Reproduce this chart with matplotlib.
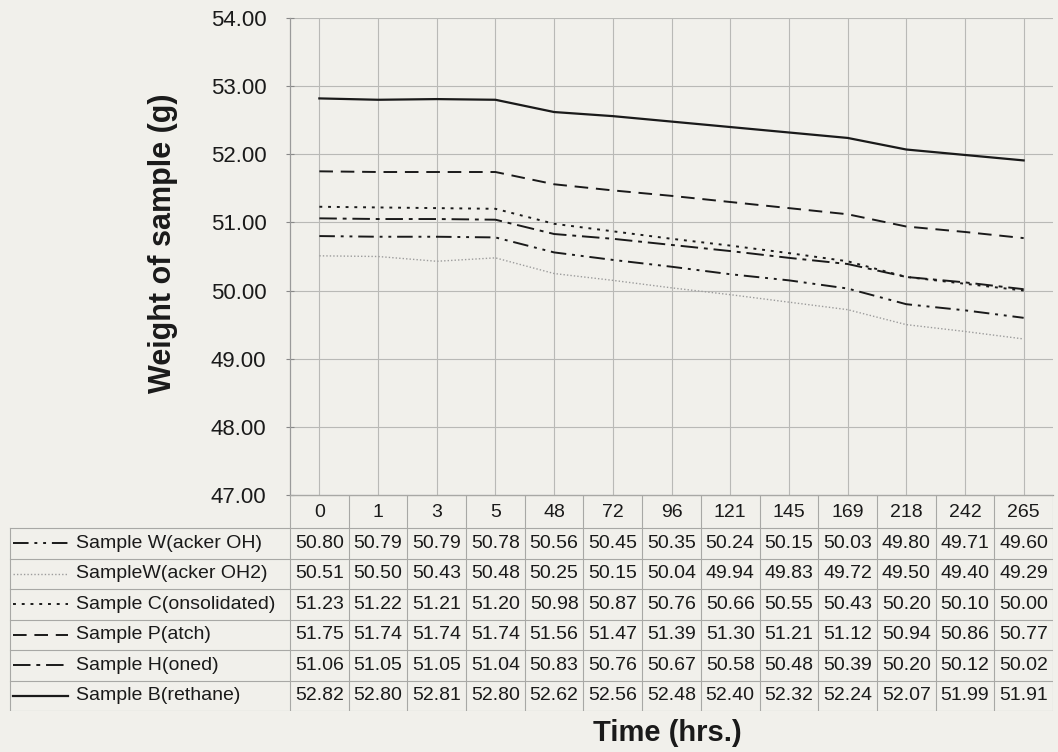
import matplotlib
matplotlib.use('Agg')
import matplotlib.pyplot as plt

plt.rcParams['font.family'] = ['Liberation Sans', 'DejaVu Sans']

# ---------------- data ----------------
times = ['0', '1', '3', '5', '48', '72', '96', '121', '145', '169', '218', '242', '265']
w_oh = [50.80, 50.79, 50.79, 50.78, 50.56, 50.45, 50.35, 50.24, 50.15, 50.03, 49.80, 49.71, 49.60]
w_oh2 = [50.51, 50.50, 50.43, 50.48, 50.25, 50.15, 50.04, 49.94, 49.83, 49.72, 49.50, 49.40, 49.29]
c_cons = [51.23, 51.22, 51.21, 51.20, 50.98, 50.87, 50.76, 50.66, 50.55, 50.43, 50.20, 50.10, 50.00]
p_patch = [51.75, 51.74, 51.74, 51.74, 51.56, 51.47, 51.39, 51.30, 51.21, 51.12, 50.94, 50.86, 50.77]
h_honed = [51.06, 51.05, 51.05, 51.04, 50.83, 50.76, 50.67, 50.58, 50.48, 50.39, 50.20, 50.12, 50.02]
b_reth = [52.82, 52.80, 52.81, 52.80, 52.62, 52.56, 52.48, 52.40, 52.32, 52.24, 52.07, 51.99, 51.91]
series_names = ['Sample W(acker OH)', 'SampleW(acker OH2)', 'Sample C(onsolidated)',
                'Sample P(atch)', 'Sample H(oned)', 'Sample B(rethane)']
y_ticks = [47, 48, 49, 50, 51, 52, 53, 54]

series = [w_oh, w_oh2, c_cons, p_patch, h_honed, b_reth]
styles = [
    dict(color='#1a1a1a', lw=1.4, ls=(0, (8, 3, 1.5, 3, 1.5, 3))),
    dict(color='#9c9c9c', lw=1.0, ls=(0, (1, 1.5))),
    dict(color='#1a1a1a', lw=1.4, ls=(0, (1.5, 3))),
    dict(color='#1a1a1a', lw=1.4, ls=(0, (7, 4))),
    dict(color='#1a1a1a', lw=1.4, ls=(0, (9, 3, 2, 3))),
    dict(color='#1a1a1a', lw=1.6, ls='-'),
]

# ---------------- layout ----------------
W, H = 1058, 752
BG = '#f1f0eb'
GRID = '#b9b9b6'
fig = plt.figure(figsize=(W / 100, H / 100), dpi=100, facecolor=BG)

x_left, x_right = 290, 1053
y_top, y_bot = 18, 495
ax = fig.add_axes([x_left / W, 1 - y_bot / H, (x_right - x_left) / W, (y_bot - y_top) / H])
ax.set_facecolor(BG)
n = len(times)
xs = list(range(n))
ax.set_xlim(-0.5, n - 0.5)
ax.set_ylim(y_ticks[0], y_ticks[-1])
ax.set_yticks(y_ticks)
ax.set_yticklabels(['%.2f' % v for v in y_ticks], fontsize=16, color='#1a1a1a')
ax.set_xticks(xs)
ax.tick_params(axis='x', length=0, labelbottom=False)
ax.tick_params(axis='y', length=6, color='#888888', pad=14, direction='inout')
for s in ['top', 'right']:
    ax.spines[s].set_visible(False)
for s in ['left', 'bottom']:
    ax.spines[s].set_color('#9a9a9a')
    ax.spines[s].set_linewidth(0.9)
ax.grid(True, axis='both', color=GRID, lw=0.8)
ax.set_axisbelow(True)

for vals, st in zip(series, styles):
    ax.plot(xs, vals, **st)

# ---------------- data table ----------------
ppu = (x_right - x_left) / n
tab_top, head_bot, row_h = 495, 528, 30.5
tab_bot = head_bot + row_h * len(series)
axt = fig.add_axes([0, 1 - tab_bot / H, x_right / W, (tab_bot - tab_top) / H])
axt.set_xlim(-0.5 - x_left / ppu, n - 0.5)
axt.set_ylim(tab_bot, tab_top)
axt.axis('off')

def px2x(px):
    return -0.5 + (px - x_left) / ppu

leg_left = px2x(10)
tcol = '#a8a8a5'
# vertical lines of category columns
for k in range(n + 1):
    axt.plot([k - 0.5, k - 0.5], [tab_top, tab_bot], color=tcol, lw=0.8)
axt.plot([leg_left, leg_left], [head_bot, tab_bot], color=tcol, lw=0.8)
# horizontal lines
axt.plot([-0.5, n - 0.5], [tab_top, tab_top], color=tcol, lw=0.8)
for r in range(len(series) + 1):
    y = head_bot + r * row_h
    axt.plot([leg_left, n - 0.5], [y, y], color=tcol, lw=0.8)

# header
for i, t in enumerate(times):
    axt.text(i, (tab_top + head_bot) / 2 + 1, t, ha='center', va='center', fontsize=14, color='#1a1a1a')

# rows
for r, (name, vals, st) in enumerate(zip(series_names, series, styles)):
    yc = head_bot + (r + 0.5) * row_h
    axt.plot([px2x(13), px2x(68)], [yc, yc], **st)
    axt.text(px2x(76), yc, name, ha='left', va='center', fontsize=14, color='#1a1a1a')
    for i, v in enumerate(vals):
        axt.text(i, yc, '%.2f' % v, ha='center', va='center', fontsize=14, color='#1a1a1a')

# axis titles
fig.text(163 / W, 1 - 243 / H, 'Weight of sample (g)', rotation=90, ha='center', va='center',
         fontsize=22, fontweight='bold', color='#1a1a1a')
fig.text(667 / W, 1 - 733 / H, 'Time (hrs.)', ha='center', va='center',
         fontsize=21, fontweight='bold', color='#1a1a1a')

fig.savefig('out.png', dpi=100, facecolor=BG)
